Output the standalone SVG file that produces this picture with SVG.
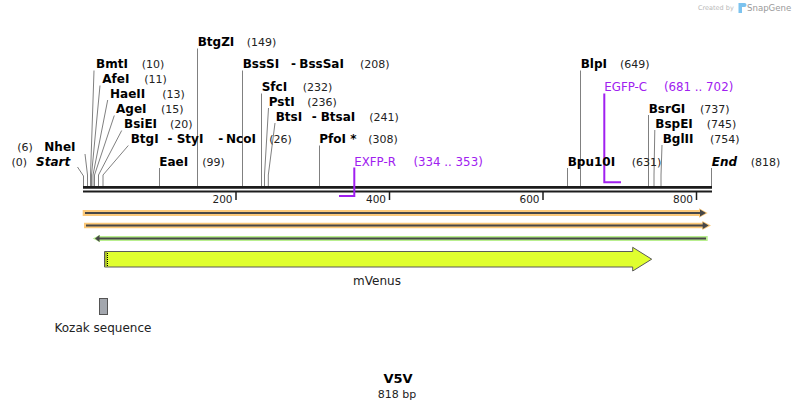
<svg xmlns="http://www.w3.org/2000/svg" width="795" height="409" viewBox="0 0 795 409">
<defs>
<style>
text{font-family:"DejaVu Sans",Verdana,sans-serif;}
.en{font-size:12px;font-weight:bold;fill:#000;}
.num{font-size:11px;fill:#222;}
.pr{font-size:11.8px;fill:#a020f0;}
.cut{fill:none;stroke:#808080;stroke-width:1;}
.prl{fill:none;stroke:#a020f0;stroke-width:2;}
.tick{font-size:10.5px;fill:#222;text-anchor:end;}
.flab{font-size:12px;fill:#222;}
.dark{stroke:#474747;stroke-width:2;fill:none;}
</style>
</defs>
<rect width="795" height="409" fill="#fff"/>

<g id="watermark">
<text x="698" y="10" font-size="6.5" fill="#b8b8b8">Created by</text>
<path d="M738.5,3 h6 a2,2 0 0 1 0,4 h-2.5 v6 h-3.5 z" fill="#7cc3ef"/>
<text x="747" y="11" font-size="8.6" fill="#9a9a9a">SnapGene</text>
</g>

<g id="backbone">
<line x1="83" y1="187.3" x2="712" y2="187.3" stroke="#1c1c1c" stroke-width="2.7"/>
<line x1="83" y1="191.5" x2="712" y2="191.5" stroke="#1c1c1c" stroke-width="2.2"/>
<g stroke="#1c1c1c" stroke-width="1.5">
<line x1="236" y1="192" x2="236" y2="200"/>
<line x1="389.5" y1="192" x2="389.5" y2="200"/>
<line x1="543" y1="192" x2="543" y2="200"/>
<line x1="696.5" y1="192" x2="696.5" y2="200"/>
</g>
<text class="tick" x="232.5" y="202.5">200</text>
<text class="tick" x="386" y="202.5">400</text>
<text class="tick" x="539.5" y="202.5">600</text>
<text class="tick" x="693" y="202.5">800</text>
</g>

<g id="connectors">
<path class="cut" d="M77.5,167 L83.5,176 V186"/>
<path class="cut" d="M85,154 L87.5,175 V186"/>
<path class="cut" d="M94,70.5 L90.5,175 V186"/>
<path class="cut" d="M100,85.5 L91.5,175 V186"/>
<path class="cut" d="M107.7,100 L93,175 V186"/>
<path class="cut" d="M114.3,115.5 L94.5,175 V186"/>
<path class="cut" d="M121.7,130.5 L98.5,175 V186"/>
<path class="cut" d="M128.3,145.5 L103,175 V186"/>
<path class="cut" d="M159.5,168 V186"/>
<path class="cut" d="M197.5,48.5 V186"/>
<path class="cut" d="M242.5,70.5 V186"/>
<path class="cut" d="M261.5,93.5 V186"/>
<path class="cut" d="M268.5,108 L264.5,175 V186"/>
<path class="cut" d="M275,123 L268.3,175 V186"/>
<path class="cut" d="M319.5,145.5 V186"/>
<path class="cut" d="M567.5,168 V186"/>
<path class="cut" d="M580.5,70.5 V186"/>
<path class="cut" d="M648.5,115 V186"/>
<path class="cut" d="M654.8,130 L654,175 V186"/>
<path class="cut" d="M662,145 L661,175 V186"/>
<path class="cut" d="M711.5,168 V186"/>
<path class="prl" d="M354.3,167.5 V196 H339"/>
<path class="prl" d="M604.3,93.5 V182.3 H621"/>
</g>

<g id="site-start"><text class="num" x="11.5" y="166">(0)</text><text class="en" x="36" y="166" font-style="italic">Start</text></g>
<g id="site-nhei"><text class="num" x="17.3" y="151">(6)</text><text class="en" x="44.3" y="151">NheI</text></g>
<g id="site-bmti"><text class="en" x="96" y="68">BmtI</text><text class="num" x="141.7" y="68">(10)</text></g>
<g id="site-afei"><text class="en" x="102.3" y="83">AfeI</text><text class="num" x="144.3" y="83">(11)</text></g>
<g id="site-haeii"><text class="en" x="110" y="98">HaeII</text><text class="num" x="162.3" y="98">(13)</text></g>
<g id="site-agei"><text class="en" x="116" y="113">AgeI</text><text class="num" x="161" y="113">(15)</text></g>
<g id="site-bsiei"><text class="en" x="124" y="128">BsiEI</text><text class="num" x="170" y="128">(20)</text></g>
<g id="site-btgi"><text class="en" x="130.7" y="143">BtgI</text><text class="en" x="167.5" y="143">-</text><text class="en" x="176.7" y="143">StyI</text><text class="en" x="218.3" y="143">-</text><text class="en" x="226" y="143">NcoI</text><text class="num" x="269.3" y="143">(26)</text></g>
<g id="site-eaei"><text class="en" x="159.3" y="166">EaeI</text><text class="num" x="202.3" y="166">(99)</text></g>
<g id="site-btgzi"><text class="en" x="197.7" y="46">BtgZI</text><text class="num" x="246.7" y="46">(149)</text></g>
<g id="site-bsssi"><text class="en" x="242.7" y="68">BssSI</text><text class="en" x="291" y="68">-</text><text class="en" x="299.3" y="68">BssSaI</text><text class="num" x="360" y="68">(208)</text></g>
<g id="site-sfci"><text class="en" x="261.7" y="91">SfcI</text><text class="num" x="302.7" y="91">(232)</text></g>
<g id="site-psti"><text class="en" x="268.7" y="106">PstI</text><text class="num" x="307.3" y="106">(236)</text></g>
<g id="site-btsi"><text class="en" x="275.7" y="121">BtsI</text><text class="en" x="311.7" y="121">-</text><text class="en" x="320.7" y="121">BtsaI</text><text class="num" x="369.3" y="121">(241)</text></g>
<g id="site-pfoi"><text class="en" x="319.3" y="143">PfoI *</text><text class="num" x="368.3" y="143">(308)</text></g>
<g id="primer-exfp-r"><text class="pr" x="354.3" y="166">EXFP-R</text><text class="pr" x="413.5" y="166">(334 .. 353)</text></g>
<g id="site-bpu10i"><text class="en" x="567.7" y="166">Bpu10I</text><text class="num" x="631.7" y="166">(631)</text></g>
<g id="site-blpi"><text class="en" x="580.7" y="68">BlpI</text><text class="num" x="620" y="68">(649)</text></g>
<g id="primer-egfp-c"><text class="pr" x="604.3" y="91">EGFP-C</text><text class="pr" x="664" y="91">(681 .. 702)</text></g>
<g id="site-bsrgi"><text class="en" x="648.7" y="113">BsrGI</text><text class="num" x="700" y="113">(737)</text></g>
<g id="site-bspei"><text class="en" x="655.3" y="128">BspEI</text><text class="num" x="706.7" y="128">(745)</text></g>
<g id="site-bglii"><text class="en" x="662.7" y="143">BglII</text><text class="num" x="710" y="143">(754)</text></g>
<g id="site-end"><text class="en" x="711.7" y="166" font-style="italic">End</text><text class="num" x="750.7" y="166">(818)</text></g>

<g id="feature-orange-1">
<path d="M82.7,210 H699 V208.3 L707.7,213 L699,217.7 V216 H82.7 Z" fill="#fcc979"/>
<line class="dark" x1="85" y1="213" x2="701" y2="213"/>
<path d="M700,209.5 L706,213 L700,216.5 Z" fill="#474747"/>
</g>
<g id="feature-orange-2">
<path d="M84,222.7 H702.3 V221 L711,225.5 L702.3,230 V228.3 H84 Z" fill="#fcc979"/>
<line class="dark" x1="86" y1="225.5" x2="703.7" y2="225.5"/>
<path d="M702.7,222 L708.7,225.5 L702.7,229 Z" fill="#474747"/>
</g>
<g id="feature-green">
<path d="M92.7,238.5 L100,234.7 V236 H707.7 V241 H100 V242.3 Z" fill="#b9ef8f"/>
<line class="dark" x1="98" y1="238.5" x2="706" y2="238.5"/>
<path d="M95,238.5 L99.5,235 L99.5,242 Z" fill="#474747"/>
</g>

<g id="feature-mvenus">
<path d="M104.5,251.5 H632.7 V247.3 L651.7,259.2 L632.7,271 V267 H104.5 Z" fill="#e0ff2f" stroke="#5a5a5a" stroke-width="1"/>
<line x1="106" y1="252.5" x2="106" y2="266" stroke="#000" stroke-width="1" stroke-dasharray="1,1"/>
<line x1="107.5" y1="253" x2="107.5" y2="266" stroke="#000" stroke-width="1" stroke-dasharray="1,1"/>
<text class="flab" x="377" y="285" text-anchor="middle">mVenus</text>
</g>

<g id="feature-kozak">
<rect x="99.5" y="298.5" width="8" height="16" fill="#a3a7ae" stroke="#555" stroke-width="1"/>
<text class="flab" x="54.5" y="332">Kozak sequence</text>
</g>

<g id="title">
<text x="398" y="383" text-anchor="middle" font-size="13" font-weight="bold" fill="#000">V5V</text>
<text x="397" y="397.5" text-anchor="middle" font-size="11" fill="#222">818 bp</text>
</g>
</svg>
